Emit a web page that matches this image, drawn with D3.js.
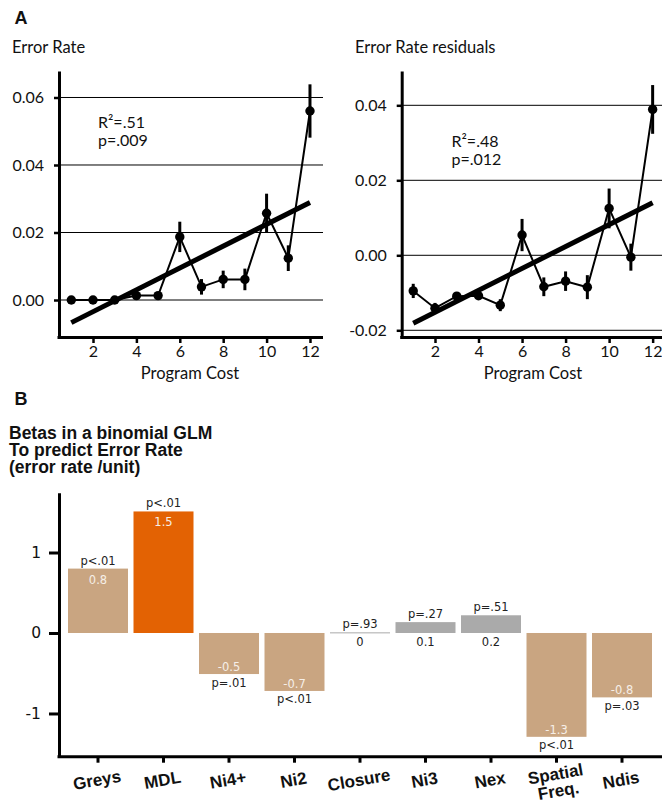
<!DOCTYPE html>
<html><head><meta charset="utf-8">
<script src="https://cdn.jsdelivr.net/npm/d3@7"></script>
<style>body{margin:0;background:#fff}svg{display:block}</style>
</head><body>
<svg id="c" width="662" height="800"></svg>
<script>
// ---------- data ----------
const costs = [1,2,3,4,5,6,7,8,9,10,11,12];
const errRate = [0,0,0,0.0013,0.0013,0.0187,0.0039,0.0061,0.0061,0.0257,0.0124,0.056];
const errSE = [0,0,0,0.0004,0.0004,0.0045,0.0023,0.0026,0.0032,0.0058,0.0038,0.0079];
const fitRate = [{x:1,y:-0.0067},{x:12,y:0.0289}];
const resid = [-0.0095,-0.0141,-0.0109,-0.0108,-0.0133,0.0054,-0.0084,-0.0069,-0.0085,0.0125,-0.0005,0.0389];
const residSE = [0.0019,0.0014,0.001,0.0011,0.0016,0.0043,0.0025,0.0026,0.0032,0.0053,0.0036,0.0065];
const fitResid = [{x:1,y:-0.0181},{x:12,y:0.0140}];
const xTicksA = [2,4,6,8,10,12];
const yTicksRate = [0,0.02,0.04,0.06];
const yTicksResid = [-0.02,0,0.02,0.04];

const predictors = ["Greys","MDL","Ni4+","Ni2","Closure","Ni3","Nex","Spatial\nFreq.","Ndis"];
const betas = [0.8,1.51,-0.51,-0.72,0.008,0.135,0.22,-1.29,-0.8];
const betaLabels = ["0.8","1.5","-0.5","-0.7","0","0.1","0.2","-1.3","-0.8"];
const pLabels = ["p<.01","p<.01","p=.01","p<.01","p=.93","p=.27","p=.51","p<.01","p=.03"];
const barKind = ["sig","mdl","sig","sig","ns","ns","ns","sig","sig"];
const yTicksB = [-1,0,1];

const colors = {sig:"#c9a581", mdl:"#e36203", ns:"#aaaaaa"};
const FA = "Lato, 'Open Sans', sans-serif";
const FB = "'Liberation Sans', Arial, sans-serif";
const FL = "'DejaVu Sans', sans-serif";
const hyphen = f => d => f(d).replace("\u2212","-");

const svg = d3.select("#c");

// ---------- panel A ----------
function linePanel(cfg){
  const g = svg.append("g");
  const x = d3.scaleLinear().domain(cfg.xd).range(cfg.xr);
  const y = d3.scaleLinear().domain(cfg.yd).range([337,71]);
  g.selectAll(".grid").data(cfg.yt).join("line")
    .attr("x1",cfg.xr[0]).attr("x2",cfg.gridEnd)
    .attr("y1",d=>y(d)).attr("y2",d=>y(d))
    .attr("stroke","#000").attr("stroke-width",1);
  const ya = g.append("g").attr("transform",`translate(${cfg.xr[0]},0)`)
    .call(d3.axisLeft(y).tickValues(cfg.yt).tickFormat(hyphen(d3.format(".2f"))).tickSize(5).tickSizeOuter(0).tickPadding(10));
  ya.select(".domain").attr("stroke-width",3);
  ya.selectAll(".tick line").attr("stroke-width",2.5);
  ya.selectAll("text").attr("font-family",FA).attr("font-size",16).attr("fill","#111");
  const xa = g.append("g").attr("transform",`translate(0,337)`)
    .call(d3.axisBottom(x).tickValues(xTicksA).tickSize(6).tickSizeOuter(0).tickPadding(3));
  xa.select(".domain").attr("stroke-width",3).attr("d",`M${cfg.xr[0]-1.5},0.5H${cfg.xr[1]}`);
  xa.selectAll(".tick line").attr("stroke-width",2.5);
  xa.selectAll("text").attr("font-family",FA).attr("font-size",16).attr("fill","#111");
  const pts = costs.map((c,i)=>({x:c,y:cfg.vals[i],e:cfg.se[i]}));
  g.append("path").datum(pts)
    .attr("d",d3.line().x(d=>x(d.x)).y(d=>y(d.y)))
    .attr("fill","none").attr("stroke","#000").attr("stroke-width",2);
  g.selectAll(".eb").data(pts.filter(d=>d.e>0)).join("line")
    .attr("x1",d=>x(d.x)).attr("x2",d=>x(d.x))
    .attr("y1",d=>y(d.y-d.e)).attr("y2",d=>y(d.y+d.e))
    .attr("stroke","#000").attr("stroke-width",3);
  g.append("path").datum(cfg.fit)
    .attr("d",d3.line().x(d=>x(d.x)).y(d=>y(d.y)))
    .attr("stroke","#000").attr("stroke-width",5).attr("fill","none");
  g.selectAll(".pt").data(pts).join("circle")
    .attr("cx",d=>x(d.x)).attr("cy",d=>y(d.y)).attr("r",4.7).attr("fill","#000");
  g.append("text").attr("x",cfg.titleX).attr("y",52.5).text(cfg.title)
    .attr("font-family",FA).attr("font-size",16.5).attr("fill","#111");
  const st = g.append("text").attr("font-family",FA).attr("font-size",16).attr("fill","#111");
  st.append("tspan").attr("x",cfg.statX).attr("y",cfg.statY).text(cfg.stat1);
  st.append("tspan").attr("x",cfg.statX).attr("y",cfg.statY+18).text(cfg.stat2);
  g.append("text").attr("x",cfg.labX).attr("y",379).attr("text-anchor","middle").text("Program Cost")
    .attr("font-family",FA).attr("font-size",16.5).attr("fill","#111");
}

linePanel({xd:[0.433,12.6], xr:[59,323], gridEnd:323, yd:[-0.01096,0.06785], yt:yTicksRate,
  vals:errRate, se:errSE, fit:fitRate, title:"Error Rate", titleX:12,
  stat1:"R²=.51", stat2:"p=.009", statX:98, statY:127.5, labX:190});
linePanel({xd:[0.47,12.43], xr:[401.7,662], gridEnd:662, yd:[-0.02179,0.04915], yt:yTicksResid,
  vals:resid, se:residSE, fit:fitResid, title:"Error Rate residuals", titleX:355,
  stat1:"R²=.48", stat2:"p=.012", statX:451.5, statY:146.5, labX:533});

svg.append("text").attr("x",14.5).attr("y",24).text("A")
  .attr("font-family",FB).attr("font-weight","bold").attr("font-size",18).attr("fill","#111");
svg.append("text").attr("x",14.5).attr("y",405).text("B")
  .attr("font-family",FB).attr("font-weight","bold").attr("font-size",18).attr("fill","#111");

// ---------- panel B ----------
const tB = svg.append("text").attr("font-family",FB).attr("font-weight","bold").attr("font-size",17.5).attr("fill","#111");
["Betas in a binomial GLM","To predict Error Rate","(error rate /unit)"].forEach((s,i)=>
  tB.append("tspan").attr("x",9).attr("y",439+i*16.8).text(s));

const xb = d3.scaleBand().domain(predictors).range([65.25,654.75]).paddingInner(0.084).paddingOuter(0.042);
const yb = d3.scaleLinear().domain([-1.537,1.743]).range([756.7,492.7]);
const bars = predictors.map((p,i)=>({p,v:betas[i],lab:betaLabels[i],pl:pLabels[i],k:barKind[i]}));
const gb = svg.append("g");

gb.selectAll(".bar").data(bars).join("rect")
  .attr("x",d=>xb(d.p)).attr("width",xb.bandwidth())
  .attr("y",d=>yb(Math.max(0,d.v))).attr("height",d=>Math.max(1,Math.abs(yb(d.v)-yb(0))))
  .attr("fill",d=>colors[d.k]);

gb.selectAll(".pl").data(bars).join("text")
  .attr("x",d=>xb(d.p)+xb.bandwidth()/2)
  .attr("y",d=>d.v>=0 ? yb(d.v)-4 : yb(d.v)+12.5)
  .attr("text-anchor","middle").attr("font-family",FL).attr("font-size",11.5).attr("fill","#222")
  .text(d=>d.pl);
gb.selectAll(".vl").data(bars).join("text")
  .attr("x",d=>xb(d.p)+xb.bandwidth()/2)
  .attr("y",d=>d.k==="ns" ? yb(0)+13.5 : (d.v>=0 ? yb(d.v)+15 : yb(d.v)-3))
  .attr("text-anchor","middle").attr("font-family",FL).attr("font-size",11.5)
  .attr("fill",d=>d.k==="ns" ? "#222" : "#f6efe8")
  .text(d=>d.lab);

const yab = gb.append("g").attr("transform","translate(59,0)")
  .call(d3.axisLeft(yb).tickValues(yTicksB).tickFormat(hyphen(d3.format("d"))).tickSize(10).tickSizeOuter(0).tickPadding(8));
yab.select(".domain").attr("stroke-width",3);
yab.selectAll(".tick line").attr("stroke-width",3);
yab.selectAll("text").attr("font-family",FL).attr("font-size",15.5).attr("fill","#111");

const xab = gb.append("g").attr("transform","translate(0,756.7)")
  .call(d3.axisBottom(xb).tickSize(6).tickSizeOuter(0).tickFormat(""));
xab.select(".domain").attr("stroke-width",3).attr("d","M57.5,0H662");
xab.selectAll(".tick line").attr("stroke-width",3);
xab.selectAll(".tick").each(function(d){
  const lines = d.split("\n");
  const wrap = d3.select(this).append("g")
    .attr("transform", lines.length>1 ? "translate(0,23) rotate(-10)" : "translate(0,29) rotate(-10)");
  const t = wrap.append("text")
    .attr("text-anchor","middle").attr("font-family",FB).attr("font-weight","bold")
    .attr("font-size",17).attr("fill","#111");
  lines.forEach((s,i)=>t.append("tspan").attr("x",0).attr("y",i*17).text(s));
});
</script>
</body></html>
